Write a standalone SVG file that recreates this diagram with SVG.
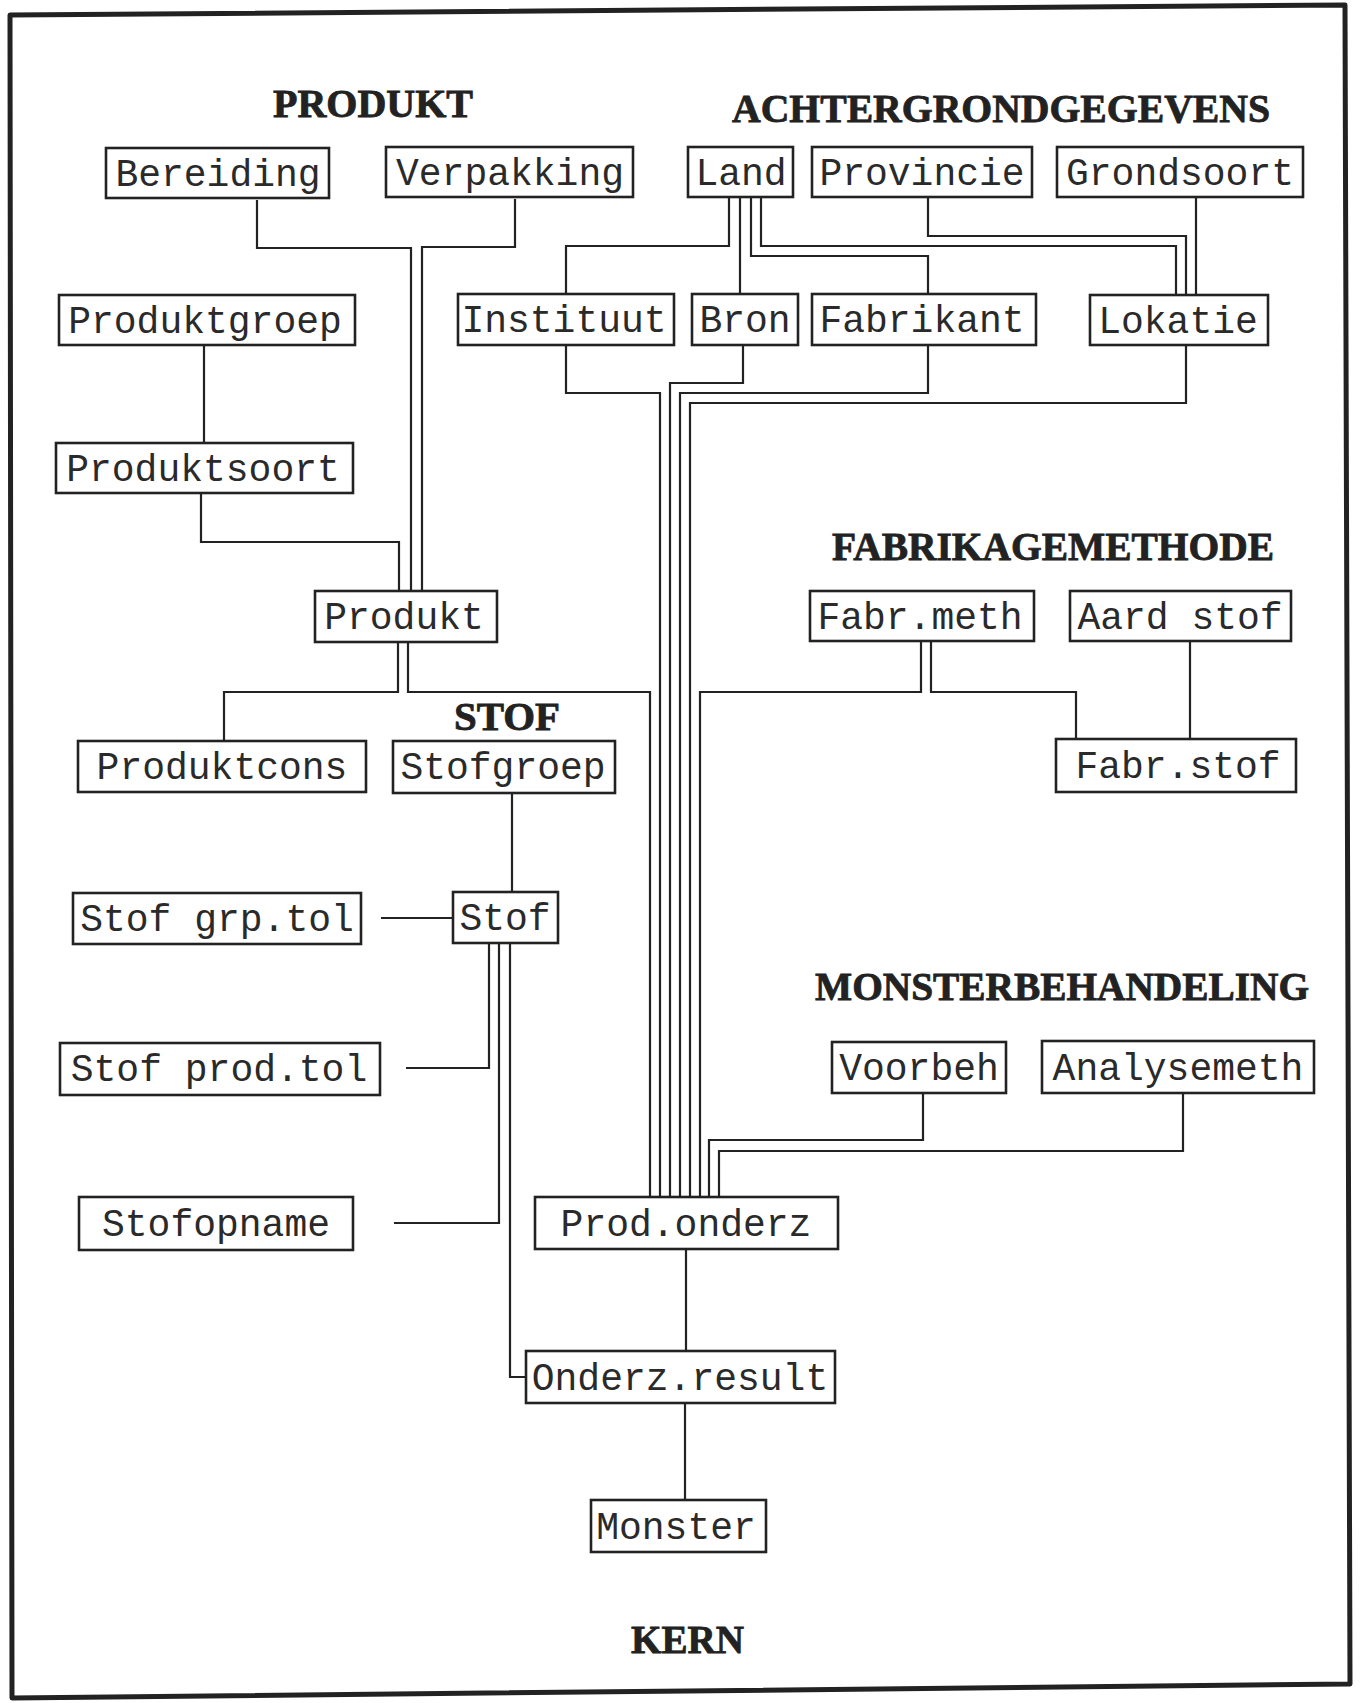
<svg xmlns="http://www.w3.org/2000/svg" width="1360" height="1703" viewBox="0 0 1360 1703">
<style>
.frame{fill:none;stroke:#222;stroke-width:5;stroke-linejoin:round}
.box{fill:#fff;stroke:#222;stroke-width:2.6}
.lbl{font-family:"Liberation Mono","DejaVu Sans Mono",monospace;font-size:38px;fill:#2a2a2a;text-anchor:middle}
.hdr{font-family:"Liberation Serif","DejaVu Serif",serif;font-size:39px;font-weight:bold;fill:#222;stroke:#222;stroke-width:0.8}
.con{fill:none;stroke:#222;stroke-width:2.2}
</style>
<rect x="0" y="0" width="1360" height="1703" fill="#fff"/>
<polygon class="frame" points="10,15 1345,5 1350,1684 12,1698"/>

<g id="headers">
<text class="hdr" x="273" y="117" textLength="200" lengthAdjust="spacingAndGlyphs">PRODUKT</text>
<text class="hdr" x="732" y="122" textLength="538" lengthAdjust="spacingAndGlyphs">ACHTERGRONDGEGEVENS</text>
<text class="hdr" x="832" y="560" textLength="442" lengthAdjust="spacingAndGlyphs">FABRIKAGEMETHODE</text>
<text class="hdr" x="454" y="730" textLength="106" lengthAdjust="spacingAndGlyphs">STOF</text>
<text class="hdr" x="815" y="1000" textLength="494" lengthAdjust="spacingAndGlyphs">MONSTERBEHANDELING</text>
<text class="hdr" x="631" y="1653" textLength="113" lengthAdjust="spacingAndGlyphs">KERN</text>
</g>

<g id="connectors">
<path class="con" d="M204,345 V443"/>
<path class="con" d="M201,493 V542 H399 V591"/>
<path class="con" d="M257,200 V248 H411 V591"/>
<path class="con" d="M515,199 V247 H422 V591"/>
<path class="con" d="M729,197 V246 H566 V294"/>
<path class="con" d="M740,197 V294"/>
<path class="con" d="M751,197 V256 H928 V294"/>
<path class="con" d="M761,197 V246 H1176 V295"/>
<path class="con" d="M928,197 V236 H1186 V295"/>
<path class="con" d="M1196,197 V295"/>
<path class="con" d="M566,345 V393 H660 V1197"/>
<path class="con" d="M743,345 V383 H670 V1197"/>
<path class="con" d="M928,345 V393 H680 V1197"/>
<path class="con" d="M1186,345 V403 H690 V1197"/>
<path class="con" d="M398,642 V692 H224 V741"/>
<path class="con" d="M408,642 V692 H650 V1197"/>
<path class="con" d="M921,641 V692 H700 V1197"/>
<path class="con" d="M931,641 V692 H1076 V739"/>
<path class="con" d="M1190,641 V739"/>
<path class="con" d="M512,793 V892"/>
<path class="con" d="M381,918 H453"/>
<path class="con" d="M489,943 V1068 H406"/>
<path class="con" d="M499,943 V1223 H394"/>
<path class="con" d="M510,943 V1377 H526"/>
<path class="con" d="M923,1093 V1140 H709 V1197"/>
<path class="con" d="M1183,1093 V1151 H719 V1197"/>
<path class="con" d="M686,1249 V1351"/>
<path class="con" d="M685,1403 V1500"/>
</g>

<g id="n-bereiding"><rect class="box" x="106" y="148" width="223" height="50"/><text class="lbl" x="218" y="186">Bereiding</text></g>
<g id="n-verpakking"><rect class="box" x="386" y="147" width="247" height="50"/><text class="lbl" x="510" y="185">Verpakking</text></g>
<g id="n-land"><rect class="box" x="688" y="147" width="105" height="50"/><text class="lbl" x="741" y="185">Land</text></g>
<g id="n-provincie"><rect class="box" x="812" y="147" width="220" height="50"/><text class="lbl" x="922" y="185">Provincie</text></g>
<g id="n-grondsoort"><rect class="box" x="1057" y="147" width="246" height="50"/><text class="lbl" x="1180" y="185">Grondsoort</text></g>
<g id="n-produktgroep"><rect class="box" x="59" y="295" width="296" height="50"/><text class="lbl" x="205" y="333">Produktgroep</text></g>
<g id="n-instituut"><rect class="box" x="458" y="294" width="216" height="51"/><text class="lbl" x="564" y="332">Instituut</text></g>
<g id="n-bron"><rect class="box" x="692" y="294" width="106" height="51"/><text class="lbl" x="745" y="332">Bron</text></g>
<g id="n-fabrikant"><rect class="box" x="812" y="294" width="224" height="51"/><text class="lbl" x="922" y="332">Fabrikant</text></g>
<g id="n-lokatie"><rect class="box" x="1090" y="295" width="178" height="50"/><text class="lbl" x="1178" y="333">Lokatie</text></g>
<g id="n-produktsoort"><rect class="box" x="56" y="443" width="297" height="50"/><text class="lbl" x="203" y="481">Produktsoort</text></g>
<g id="n-produkt"><rect class="box" x="315" y="591" width="182" height="51"/><text class="lbl" x="404" y="629">Produkt</text></g>
<g id="n-fabrmeth"><rect class="box" x="810" y="591" width="224" height="50"/><text class="lbl" x="920" y="629">Fabr.meth</text></g>
<g id="n-aardstof"><rect class="box" x="1070" y="591" width="221" height="50"/><text class="lbl" x="1180" y="629">Aard stof</text></g>
<g id="n-produktcons"><rect class="box" x="78" y="741" width="288" height="51"/><text class="lbl" x="222" y="779">Produktcons</text></g>
<g id="n-stofgroep"><rect class="box" x="393" y="741" width="222" height="52"/><text class="lbl" x="503" y="779">Stofgroep</text></g>
<g id="n-fabrstof"><rect class="box" x="1056" y="739" width="240" height="53"/><text class="lbl" x="1178" y="778">Fabr.stof</text></g>
<g id="n-stofgrptol"><rect class="box" x="73" y="893" width="288" height="51"/><text class="lbl" x="217" y="931">Stof grp.tol</text></g>
<g id="n-stof"><rect class="box" x="453" y="892" width="105" height="51"/><text class="lbl" x="505" y="930">Stof</text></g>
<g id="n-voorbeh"><rect class="box" x="832" y="1042" width="174" height="51"/><text class="lbl" x="919" y="1080">Voorbeh</text></g>
<g id="n-analysemeth"><rect class="box" x="1042" y="1041" width="272" height="52"/><text class="lbl" x="1178" y="1080">Analysemeth</text></g>
<g id="n-stofprodtol"><rect class="box" x="60" y="1043" width="320" height="52"/><text class="lbl" x="219" y="1081">Stof prod.tol</text></g>
<g id="n-stofopname"><rect class="box" x="79" y="1197" width="274" height="53"/><text class="lbl" x="216" y="1236">Stofopname</text></g>
<g id="n-prodonderz"><rect class="box" x="535" y="1197" width="303" height="52"/><text class="lbl" x="686" y="1236">Prod.onderz</text></g>
<g id="n-onderzresult"><rect class="box" x="526" y="1351" width="309" height="52"/><text class="lbl" x="680" y="1390">Onderz.result</text></g>
<g id="n-monster"><rect class="box" x="591" y="1500" width="175" height="52"/><text class="lbl" x="676" y="1539">Monster</text></g>
</svg>
